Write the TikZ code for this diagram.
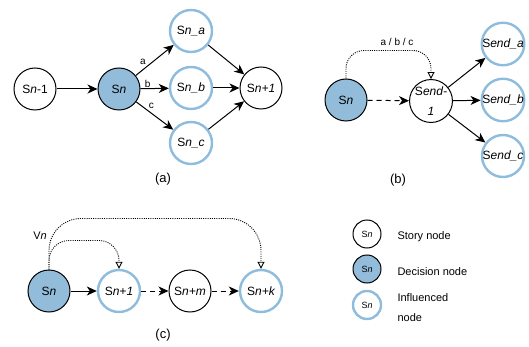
\documentclass[tikz,border=0pt]{standalone}
\usepackage{fontspec}
\setmainfont{Liberation Sans}
\usetikzlibrary{arrows.meta}
\definecolor{decblue}{HTML}{92BCDA}
\definecolor{inflblue}{HTML}{8DBCDD}
\newcommand{\sname}[1]{\textup{S}{\itshape #1}}
\tikzset{state/.style={%
  circle,
  draw,
  line width=1pt,
  minimum size=42pt,
  inner sep=0pt,
  font=\fontsize{12}{14}\selectfont,
  }
}
\tikzset{story/.style={state, fill=white}}
\tikzset{decision/.style={state, fill=decblue}}
\tikzset{influenced/.style={state, draw=inflblue, line width=2.4pt}}
\tikzset{key/.style={minimum size=28pt, font=\fontsize{9}{11}\selectfont}}
\tikzset{trans/.style={%
  -{Stealth[length=10pt,width=9pt,inset=3pt]},
  line width=1pt,
  }
}
\tikzset{later/.style={trans, dash pattern=on 5pt off 4pt}}
\tikzset{effect/.style={%
  -{Triangle[open,length=7pt,width=7pt]},
  line width=0.9pt,
  dash pattern=on 1pt off 1.2pt,
  }
}
\tikzset{caption/.style={font=\fontsize{13}{15}\selectfont}}
\tikzset{edgelabel/.style={font=\fontsize{10}{12}\selectfont, inner sep=1pt}}
\tikzset{legendtext/.style={anchor=west, align=left, font=\fontsize{11}{20}\selectfont}}

\begin{document}
\begin{tikzpicture}[x=1pt,y=-1pt]
  \useasboundingbox (0,0) rectangle (529,347);

  % (a) branching decision
  \node (prev) [story] at (35,89) {\sname{n}-1};
  \node (cur) [decision] at (119,89) {\sname{n}};
  \node (opta) [influenced] at (191,31) {\sname{n\_a}};
  \node (optb) [influenced] at (191,88) {\sname{n\_b}};
  \node (optc) [influenced] at (191,143) {\sname{n\_c}};
  \node (next) [story] at (261,88) {\sname{n+1}};
  \node (capa) [caption] at (163,179) {(a)};

  \draw [trans] (prev) -- (cur);
  \draw [trans] (cur) -- node [edgelabel, pos=0.3, above left] {a} (opta);
  \draw [trans] (cur) -- node [edgelabel, pos=0.25, above] {b} (optb);
  \draw [trans] (cur) -- node [edgelabel, pos=0.3, above right] {c} (optc);
  \draw [trans] (opta) -- (next);
  \draw [trans] (optb) -- (next);
  \draw [trans] (optc) -- (next);

  % (b) decision reaching the ending
  \node (bcur) [decision] at (346,100) {\sname{n}};
  \node (bend) [story, align=center, font=\fontsize{12}{20}\selectfont] at (431,101) {\sname{end-}\\{\itshape 1}};
  \node (enda) [influenced] at (503,44) {\sname{end\_a}};
  \node (endb) [influenced] at (503,100) {\sname{end\_b}};
  \node (endc) [influenced] at (503,156) {\sname{end\_c}};
  \node (capb) [caption] at (398,180) {(b)};

  \draw [later] (bcur) -- (bend);
  \draw [effect, rounded corners=18pt] (bcur.north) -- ++(0,-28) -| node [edgelabel, pos=0.3, above=3pt] {a / b / c} (bend.north);
  \draw [trans] (bend) -- (enda);
  \draw [trans] (bend) -- (endb);
  \draw [trans] (bend) -- (endc);

  % (c) delayed influence
  \node (ccur) [decision] at (49,291) {\sname{n}};
  \node (cnext) [influenced] at (119,291) {\sname{n+1}};
  \node (cmid) [story] at (190,291) {\sname{n+m}};
  \node (cfar) [influenced] at (261,291) {\sname{n+k}};
  \node (vn) [font=\fontsize{11}{13}\selectfont] at (40,236) {V{\itshape n}};
  \node (capc) [caption] at (163,335) {(c)};

  \draw [trans] (ccur) -- (cnext);
  \draw [later] (cnext) -- (cmid);
  \draw [later] (cmid) -- (cfar);
  \draw [effect, rounded corners=20pt] (ccur.north) -- ++(0,-29) -| (cnext.north);
  \draw [effect, rounded corners=32pt] (ccur.north) -- ++(0,-51) -| (cfar.north);

  % legend
  \node (kstory) [story, key] at (367,234) {\sname{n}};
  \node (kdec) [decision, key] at (367,269) {\sname{n}};
  \node (kinfl) [influenced, key] at (367,305) {\sname{n}};
  \node (tstory) [legendtext] at (394,237) {Story node};
  \node (tdec) [legendtext] at (394,272) {Decision node};
  \node (tinfl) [legendtext] at (394,308) {Influenced\\node};
\end{tikzpicture}
\end{document}
